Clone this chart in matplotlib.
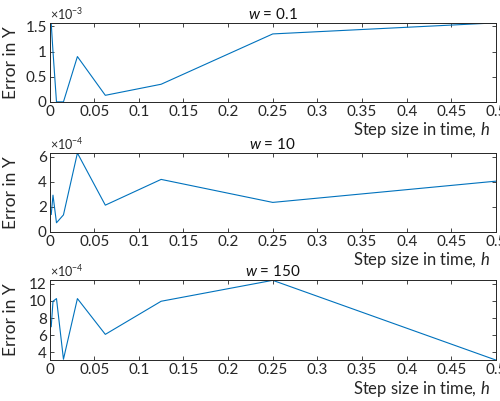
import matplotlib.pyplot as plt
from matplotlib.ticker import FuncFormatter

plt.rcParams['font.family'] = ['Lato', 'DejaVu Sans']
plt.rcParams['mathtext.fontset'] = 'custom'
plt.rcParams['mathtext.rm'] = 'Lato'
plt.rcParams['mathtext.it'] = 'Lato:italic'

# step sizes
h = [0.001953125, 0.00390625, 0.0078125, 0.015625, 0.03125, 0.0625, 0.125, 0.25, 0.5]

# error in Y for each w
err_w01 = [1.55e-3, 1.0e-3, 0.0, 0.0, 0.90e-3, 0.13e-3, 0.35e-3, 1.35e-3, 1.57e-3]
err_w10 = [1.39e-4, 2.93e-4, 0.72e-4, 1.35e-4, 6.30e-4, 2.13e-4, 4.19e-4, 2.35e-4, 4.05e-4]
err_w150 = [7.0e-4, 9.96e-4, 10.27e-4, 3.2e-4, 10.27e-4, 6.1e-4, 9.96e-4, 12.4e-4, 3.1e-4]

titles = ["0.1", "10", "150"]
exponents = [-3, -4, -4]
ylims = [(0, 1.57), (0, 6.32), (3.1, 12.45)]
yticks = [[0, 0.5, 1, 1.5], [0, 2, 4, 6], [4, 6, 8, 10, 12]]
xticks = [0, 0.05, 0.1, 0.15, 0.2, 0.25, 0.3, 0.35, 0.4, 0.45, 0.5]

fig = plt.figure(figsize=(5.0, 4.01), dpi=100)
boxes = [(0.099, 0.746, 0.893, 0.197),
         (0.099, 0.422, 0.893, 0.197),
         (0.099, 0.102, 0.893, 0.200)]

for box, err, t, ex, yl, yt in zip(boxes, [err_w01, err_w10, err_w150],
                                   titles, exponents, ylims, yticks):
    ax = fig.add_axes(box)
    scale = 10.0 ** ex
    ax.plot(h, [e / scale for e in err], color="#0072BD", lw=0.8)
    ax.set_xlim(0, 0.5)
    ax.set_ylim(*yl)
    ax.set_xticks(xticks)
    ax.set_yticks(yt)
    fmt = FuncFormatter(lambda v, p: "%g" % v)
    ax.xaxis.set_major_formatter(fmt)
    ax.yaxis.set_major_formatter(fmt)
    ax.tick_params(direction="in", top=True, right=True, length=3,
                   width=0.6, labelsize=11, pad=2, colors="#262626")
    for s in ax.spines.values():
        s.set_linewidth(0.7)
        s.set_color("#262626")
    ax.set_title("$w$ = " + t, fontsize=11, pad=3, color="#111111")
    ax.set_ylabel("Error in Y", fontsize=12.5, color="#262626")
    ax.yaxis.set_label_coords(-0.068, 0.5)
    ax.set_xlabel("Step size in time, $h$", fontsize=12, color="#262626")
    ax.xaxis.set_label_coords(0.832, -0.36)
    ax.xaxis.label.set_va("center")
    ax.text(0.0, 1.01, r"$\times10^{%d}$" % ex, transform=ax.transAxes,
            fontsize=9, ha="left", va="bottom", color="#262626")

fig.savefig("out.png", dpi=100)
